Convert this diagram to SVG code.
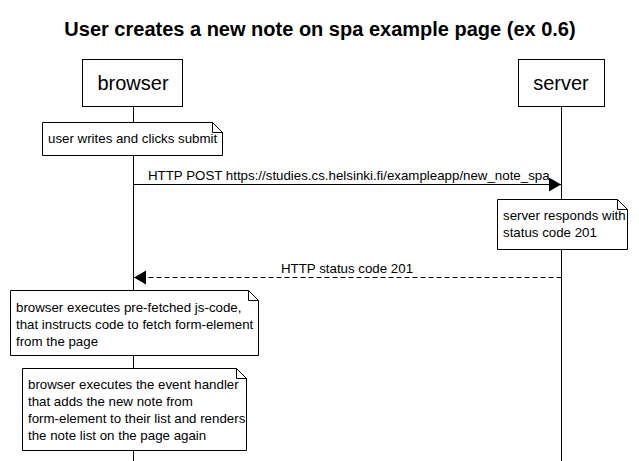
<svg xmlns="http://www.w3.org/2000/svg" width="639" height="461" viewBox="0 0 639 461">
<style>
.t{font-family:"Liberation Sans",Arial,sans-serif;fill:#000}
.title{font-size:20px;font-weight:bold}
.actor{font-size:20px}
.n{font-size:13.3px}
.box{fill:#fff;stroke:#000;stroke-width:1}
.life{stroke:#000;stroke-width:1}
.msg{stroke:#000;stroke-width:1;fill:none}
</style>
<defs>
<marker id="ah" markerWidth="13" markerHeight="15" refX="12" refY="7" orient="auto" markerUnits="userSpaceOnUse">
<path d="M0,0 L12,7 L0,14 Z" fill="#000"/>
</marker>
</defs>
<rect width="639" height="461" fill="#fff"/>
<text class="t title" x="320" y="36" text-anchor="middle">User creates a new note on spa example page (ex 0.6)</text>
<g id="lifelines">
<line class="life" x1="133.5" y1="106" x2="133.5" y2="461"/>
<line class="life" x1="561.5" y1="106" x2="561.5" y2="461"/>
</g>
<g id="browser">
<rect class="box" x="82.5" y="59.5" width="100" height="47"/>
<text class="t actor" x="133" y="90" text-anchor="middle">browser</text>
</g>
<g id="server">
<rect class="box" x="518.5" y="59.5" width="86" height="47"/>
<text class="t actor" x="561" y="90" text-anchor="middle">server</text>
</g>
<g id="note1">
<path class="box" d="M42.5,122.5 H212.5 L222.5,132.5 V155.5 H42.5 Z"/>
<path class="msg" d="M212.5,122.5 V132.5 H222.5"/>
<text class="t n" x="48" y="143">user writes and clicks submit</text>
</g>
<g id="connectors">
<line class="msg" x1="133.5" y1="184.5" x2="561" y2="184.5" marker-end="url(#ah)"/>
<text class="t n" x="148" y="180">HTTP POST https://studies.cs.helsinki.fi/exampleapp/new_note_spa</text>
<line class="msg" x1="561.5" y1="277.5" x2="134" y2="277.5" stroke-dasharray="5,3" marker-end="url(#ah)"/>
<text class="t n" x="347" y="273" text-anchor="middle">HTTP status code 201</text>
</g>
<g id="note2">
<path class="box" d="M497.5,199.5 H617.5 L627.5,209.5 V249.5 H497.5 Z"/>
<path class="msg" d="M617.5,199.5 V209.5 H627.5"/>
<text class="t n" x="503" y="220">server responds with</text>
<text class="t n" x="503" y="237">status code 201</text>
</g>
<g id="note3">
<path class="box" d="M10.5,290.5 H248.5 L258.5,300.5 V355.5 H10.5 Z"/>
<path class="msg" d="M248.5,290.5 V300.5 H258.5"/>
<text class="t n" x="16" y="312">browser executes pre-fetched js-code,</text>
<text class="t n" x="16" y="329">that instructs code to fetch form-element</text>
<text class="t n" x="16" y="346">from the page</text>
</g>
<g id="note4">
<path class="box" d="M22.5,368.5 H236.5 L246.5,378.5 V450.5 H22.5 Z"/>
<path class="msg" d="M236.5,368.5 V378.5 H246.5"/>
<text class="t n" x="28" y="389">browser executes the event handler</text>
<text class="t n" x="28" y="406">that adds the new note from</text>
<text class="t n" x="28" y="423">form-element to their list and renders</text>
<text class="t n" x="28" y="440">the note list on the page again</text>
</g>
</svg>
